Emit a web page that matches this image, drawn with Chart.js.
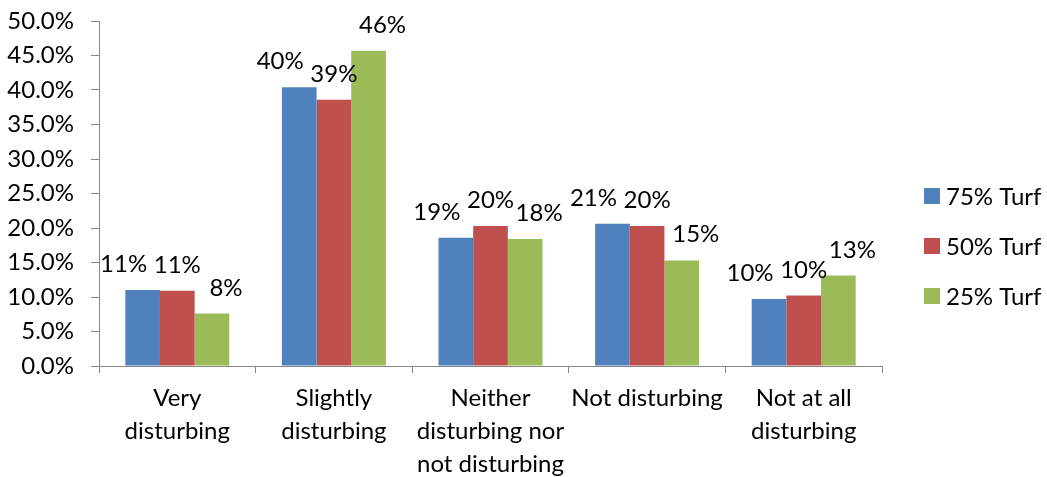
<!DOCTYPE html>
<html>
<head>
<meta charset="utf-8">
<script src="https://cdn.jsdelivr.net/npm/chart.js@4.4.1/dist/chart.umd.min.js"></script>
<style>
  html, body { margin: 0; padding: 0; background: #fff; }
  #wrap { width: 1047px; height: 477px; }
</style>
</head>
<body>
<div id="wrap"><canvas id="turfChart" width="1047" height="477"></canvas></div>
<script>
// ─── data ───
const categories = [
  ['Very', 'disturbing'],
  ['Slightly', 'disturbing'],
  ['Neither', 'disturbing nor', 'not disturbing'],
  'Not disturbing',
  ['Not at all', 'disturbing'],
];
const seriesNames = ['75% Turf', '50% Turf', '25% Turf'];
const turf75 = [11.0, 40.4, 18.6, 20.6, 9.7];
const turf50 = [10.9, 38.6, 20.3, 20.3, 10.2];
const turf25 = [7.6, 45.7, 18.4, 15.3, 13.1];

// ─── look ───
const COLORS = ['#4f81bd', '#c0504d', '#9bbb59'];
const LABEL_DX = [-19, 0, 14];   // nudges for the value labels, per series
const FONT = { family: 'Lato, "Open Sans", sans-serif', size: 24 };
const AXIS_GREY = '#868686';

// value labels above each bar ("11%", "40%" ...)
const valueLabels = {
  id: 'valueLabels',
  afterDatasetsDraw(chart) {
    const ctx = chart.ctx;
    ctx.save();
    ctx.font = `${FONT.size}px ${FONT.family}`;
    ctx.fillStyle = '#000';
    ctx.textAlign = 'center';
    ctx.textBaseline = 'alphabetic';
    chart.data.datasets.forEach((ds, i) => {
      chart.getDatasetMeta(i).data.forEach((bar, j) => {
        ctx.fillText(Math.round(ds.data[j]) + '%', bar.x + LABEL_DX[i], bar.y - 18);
      });
    });
    ctx.restore();
  },
};

// legend column on the right
const sideLegend = {
  id: 'sideLegend',
  afterDraw(chart) {
    const ctx = chart.ctx;
    const x = chart.chartArea.right + 42;
    ctx.save();
    ctx.font = `${FONT.size}px ${FONT.family}`;
    ctx.textBaseline = 'middle';
    ctx.textAlign = 'left';
    chart.data.datasets.forEach((ds, i) => {
      const y = 196 + i * 50;
      ctx.fillStyle = ds.backgroundColor;
      ctx.fillRect(x, y - 8, 16, 16);
      ctx.fillStyle = '#000';
      ctx.fillText(ds.label, x + 22, y + 1);
    });
    ctx.restore();
  },
};

new Chart(document.getElementById('turfChart'), {
  type: 'bar',
  data: {
    labels: categories,
    datasets: [turf75, turf50, turf25].map((vals, i) => ({
      label: seriesNames[i],
      data: vals,
      backgroundColor: COLORS[i],
      borderWidth: 0,
      categoryPercentage: 0.664,
      barPercentage: 1.0,
    })),
  },
  options: {
    responsive: false,
    animation: false,
    layout: { padding: { top: 21, right: 165, left: 0, bottom: 0 } },
    plugins: {
      legend: { display: false },
      tooltip: { enabled: false },
    },
    scales: {
      x: {
        grid: { drawOnChartArea: false, drawTicks: true, tickLength: 7, color: AXIS_GREY },
        border: { color: AXIS_GREY },
        ticks: { color: '#000', font: { ...FONT, lineHeight: '33px' }, padding: 9, maxRotation: 0, autoSkip: false },
        afterFit: (s) => { s.height = 111; },
      },
      y: {
        min: 0,
        max: 50,
        grid: { drawOnChartArea: false, drawTicks: true, tickLength: 8, color: AXIS_GREY },
        border: { color: AXIS_GREY },
        ticks: {
          stepSize: 5,
          color: '#000',
          font: FONT,
          padding: 17,
          callback: (v) => v.toFixed(1) + '%',
        },
        afterFit: (s) => { s.width = 99; s.paddingTop = 0; s.paddingBottom = 0; },
      },
    },
  },
  plugins: [valueLabels, sideLegend],
});
</script>
</body>
</html>
